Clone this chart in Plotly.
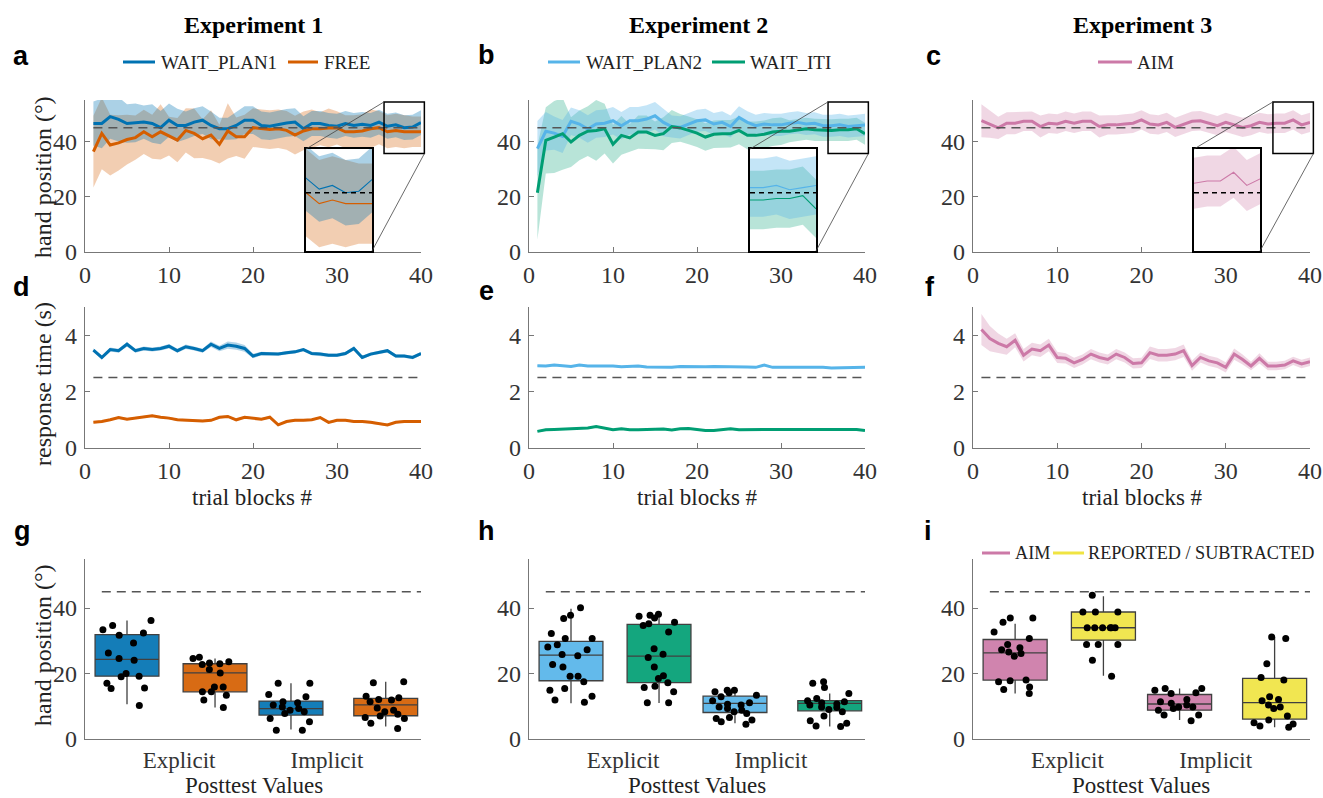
import numpy as np
import plotly.graph_objects as go

# ---------------- data ----------------
TRIALS = list(range(1, 41))

A_WP1_MEAN = [46.5, 46.5, 49.0, 48.0, 46.5, 46.7, 47.0, 46.5, 45.0, 47.7, 45.8, 45.8, 47.0, 47.7, 45.8, 44.6, 44.6, 45.8, 47.7, 47.7,
              45.8, 45.5, 46.2, 46.7, 47.0, 44.6, 46.5, 46.5, 45.8, 45.5, 46.5, 45.8, 46.2, 45.8, 47.0, 45.5, 46.0, 45.0, 45.2, 46.8]
A_WP1_SD = [8, 9, 8, 8, 7, 7, 6, 7, 6, 6, 6, 5, 5, 5, 5, 4, 4, 5, 5, 5,
            5, 5, 5, 5, 5, 4.5, 4.5, 4.5, 4.5, 4.5, 4.5, 4.5, 4.5, 4.5, 4.5, 4.5, 4.5, 4.5, 4.5, 4.5]
A_FREE_MEAN = [36.3, 42.9, 38.7, 39.5, 40.7, 41.4, 43.5, 41.7, 43.5, 41.9, 40.5, 44.0, 42.9, 41.0, 42.3, 39.0, 43.8, 41.7, 41.7, 45.0,
               44.6, 44.3, 44.6, 44.0, 42.3, 43.8, 44.6, 44.6, 44.9, 44.9, 43.5, 43.5, 43.8, 44.6, 45.0, 43.5, 44.0, 43.5, 43.5, 43.5]
A_FREE_SD = [13, 13, 11, 10, 9, 8, 8, 8, 10, 7, 8, 8, 9, 7, 9, 7, 10, 7, 8, 7,
             7, 7, 7, 7, 7, 7, 7, 6, 7, 6, 6, 6, 6, 7, 6, 6, 6, 6, 5.5, 5.5]

B_WP2_MEAN = [37.4, 43.7, 43.0, 41.8, 47.3, 46.3, 44.5, 46.3, 46.6, 47.5, 45.7, 47.5, 47.5, 48.1, 49.3, 46.9, 45.4, 45.1, 46.3, 47.5,
              47.8, 46.3, 46.9, 45.4, 48.7, 46.9, 45.7, 46.3, 46.0, 46.0, 46.6, 46.9, 46.3, 46.6, 45.7, 45.7, 46.0, 45.4, 45.7, 46.0]
B_WP2_SD = [10, 7, 6, 6, 5, 5, 5, 5, 5, 5, 5, 5, 5, 5, 5, 5, 4, 4, 4, 4,
            4, 4, 4, 4, 4, 4, 4, 4, 4, 4, 4, 4, 4, 4, 4, 4, 4, 4, 4, 4]
B_ITI_MEAN = [21.4, 40.4, 41.6, 42.8, 39.8, 42.2, 43.7, 44.0, 44.6, 39.0, 42.2, 41.3, 43.4, 43.4, 42.2, 42.8, 45.4, 44.9, 44.0, 43.0,
              41.6, 42.6, 42.8, 42.8, 44.0, 42.2, 42.2, 42.6, 43.4, 43.7, 43.7, 44.2, 44.6, 44.2, 44.0, 44.0, 44.2, 44.2, 44.6, 42.8]
B_ITI_SD = [17, 12, 13, 13, 9, 9, 9, 11, 9, 7, 7, 5, 6, 6, 5, 6, 6, 5, 5, 5,
            5, 5, 5, 5, 5, 5, 5, 5, 5, 5, 4, 4, 4, 4, 4, 4, 4, 4, 4, 4]

C_AIM_MEAN = [47.5, 46.3, 44.9, 46.6, 46.6, 47.3, 47.3, 45.4, 46.6, 46.3, 47.3, 46.6, 47.3, 47.3, 45.4, 46.0, 46.0, 46.3, 46.6, 47.8,
              46.3, 46.0, 46.9, 45.1, 46.3, 47.3, 47.5, 46.6, 45.7, 46.9, 46.0, 45.1, 45.7, 46.9, 46.3, 46.6, 46.6, 47.8, 46.0, 46.9]
C_AIM_SD = [6, 5, 4, 4, 4, 3.5, 3.5, 4, 3.5, 3.5, 3.5, 3.5, 3.5, 3.5, 4, 3.5, 3.5, 3.5, 3.5, 3.5,
            3.5, 3.5, 3.5, 3.5, 3.5, 3.5, 3.5, 3.5, 3.5, 3.5, 3.5, 3.5, 3.5, 3.5, 3.5, 3.5, 3.5, 3.5, 3.5, 3.5]

D_WP1_RT = [3.47, 3.21, 3.49, 3.45, 3.68, 3.45, 3.53, 3.49, 3.53, 3.61, 3.45, 3.59, 3.53, 3.45, 3.68, 3.53, 3.65, 3.61, 3.53, 3.26,
            3.35, 3.33, 3.33, 3.38, 3.41, 3.49, 3.35, 3.33, 3.29, 3.29, 3.35, 3.53, 3.21, 3.33, 3.38, 3.45, 3.26, 3.26, 3.21, 3.35]
D_WP1_SD = [0.07, 0.07, 0.07, 0.07, 0.08, 0.07, 0.07, 0.07, 0.07, 0.08, 0.07, 0.08, 0.07, 0.07, 0.1, 0.1, 0.13, 0.13, 0.12, 0.08,
            0.06, 0.06, 0.06, 0.06, 0.06, 0.06, 0.06, 0.06, 0.06, 0.06, 0.06, 0.07, 0.06, 0.06, 0.06, 0.06, 0.06, 0.06, 0.06, 0.06]
D_FREE_RT = [0.91, 0.94, 1.00, 1.08, 1.02, 1.06, 1.12, 1.14, 1.09, 1.06, 1.00, 0.98, 0.98, 0.96, 0.98, 1.09, 1.12, 1.00, 1.09, 1.06,
             1.02, 1.09, 0.82, 0.94, 0.98, 0.98, 1.00, 1.08, 0.91, 0.98, 0.98, 0.94, 0.94, 0.91, 0.86, 0.82, 0.91, 0.94, 0.94, 0.94]
D_FREE_SD = [0.04] * 40

E_WP2_RT = [2.92, 2.91, 2.94, 2.91, 2.89, 2.94, 2.91, 2.91, 2.92, 2.91, 2.88, 2.89, 2.91, 2.87, 2.87, 2.87, 2.86, 2.89, 2.88, 2.88,
            2.88, 2.89, 2.89, 2.88, 2.89, 2.87, 2.86, 2.94, 2.86, 2.86, 2.88, 2.87, 2.87, 2.87, 2.86, 2.84, 2.85, 2.85, 2.87, 2.86]
E_WP2_SD = [0.03] * 40
E_ITI_RT = [0.59, 0.65, 0.66, 0.67, 0.68, 0.71, 0.71, 0.76, 0.71, 0.65, 0.68, 0.65, 0.65, 0.65, 0.65, 0.67, 0.64, 0.68, 0.69, 0.65,
            0.62, 0.62, 0.64, 0.68, 0.65, 0.65, 0.66, 0.65, 0.64, 0.64, 0.65, 0.65, 0.65, 0.64, 0.64, 0.64, 0.66, 0.65, 0.66, 0.62]
E_ITI_SD = [0.03] * 40

F_AIM_RT = [4.20, 3.88, 3.71, 3.59, 3.82, 3.29, 3.51, 3.45, 3.65, 3.21, 3.18, 3.02, 3.14, 3.33, 3.21, 3.14, 3.33, 3.21, 3.00, 3.02,
            3.38, 3.29, 3.29, 3.33, 3.45, 2.92, 3.21, 3.09, 3.02, 2.86, 3.33, 3.14, 2.91, 3.18, 2.91, 2.91, 2.94, 3.09, 2.98, 3.06]
F_AIM_SD = [0.55, 0.45, 0.35, 0.28, 0.25, 0.22, 0.22, 0.22, 0.22, 0.2, 0.18, 0.18, 0.18, 0.18, 0.18, 0.18, 0.18, 0.18, 0.18, 0.18,
            0.22, 0.22, 0.22, 0.22, 0.22, 0.18, 0.18, 0.18, 0.18, 0.18, 0.2, 0.18, 0.15, 0.18, 0.15, 0.15, 0.15, 0.15, 0.15, 0.15]

BOX_GROUPS = ["Explicit", "Implicit"]

# panel g: WAIT_PLAN1 / FREE  (explicit, explicit, implicit, implicit)
G_Q1 = [19.2, 14.4, 7.3, 7.1]
G_MED = [24.3, 20.2, 9.3, 10.4]
G_Q3 = [31.9, 23.0, 11.6, 12.4]
G_LO = [10.6, 9.6, 2.9, 3.8]
G_HI = [36.2, 24.6, 17.0, 17.5]
G_PTS = [
    [36.2, 31.7, 32.4, 34.7, 33.4, 29.3, 26.3, 24.6, 24.1, 20.0, 19.2, 19.0, 17.0, 15.6, 15.4, 10.2],
    [23.6, 23.0, 21.2, 22.8, 25.0, 24.6, 23.2, 20.2, 15.9, 15.9, 14.4, 13.4, 14.4, 11.9, 9.6],
    [17.0, 17.0, 12.9, 13.6, 11.4, 11.1, 10.4, 9.8, 9.3, 8.8, 8.3, 7.8, 6.3, 5.3, 2.7, 2.7],
    [17.5, 17.2, 13.1, 12.6, 12.1, 11.9, 11.4, 9.5, 8.8, 8.3, 7.6, 7.0, 6.6, 6.3, 4.8, 3.2],
]
# panel h: WAIT_PLAN2 / WAIT_ITI
H_Q1 = [17.8, 17.2, 8.1, 8.6]
H_MED = [25.6, 25.3, 10.9, 10.9]
H_Q3 = [29.8, 35.0, 13.1, 11.7]
H_LO = [10.9, 11.0, 4.8, 3.8]
H_HI = [39.8, 38.0, 14.9, 13.9]
H_PTS = [
    [40.1, 37.8, 36.8, 32.2, 30.7, 30.7, 28.8, 28.1, 27.3, 25.8, 25.4, 22.8, 22.0, 19.2, 19.2, 17.5, 15.4, 14.9, 13.1, 11.9, 11.2],
    [38.1, 37.8, 37.5, 37.0, 35.7, 35.2, 34.7, 32.7, 27.6, 25.9, 24.9, 22.0, 19.3, 18.5, 17.2, 16.1, 15.7, 14.4, 11.1, 11.1],
    [14.9, 14.9, 14.4, 14.1, 13.4, 12.9, 11.7, 11.1, 10.6, 10.4, 9.8, 9.3, 8.8, 8.3, 7.8, 6.6, 6.3, 5.8, 5.3, 4.5],
    [17.5, 17.0, 15.7, 13.9, 12.4, 11.7, 11.4, 11.1, 10.7, 10.4, 9.8, 9.6, 9.0, 8.3, 7.0, 5.6, 4.8, 4.0, 3.8],
]
# panel i: AIM / REPORTED-SUBTRACTED
I_Q1 = [18.0, 30.2, 8.8, 6.1]
I_MED = [26.3, 34.0, 10.7, 11.1]
I_Q3 = [30.4, 38.8, 13.6, 18.5]
I_LO = [13.9, 19.3, 5.8, 3.6]
I_HI = [35.2, 43.6, 15.4, 31.2]
I_PTS = [
    [37.0, 37.0, 35.7, 32.7, 30.7, 28.9, 27.9, 27.3, 26.6, 26.1, 25.3, 18.0, 17.8, 17.5, 15.9, 15.1, 13.9],
    [43.9, 38.8, 38.8, 38.8, 34.0, 34.0, 34.0, 34.0, 34.0, 34.0, 28.9, 28.9, 28.9, 24.1, 19.2],
    [15.4, 15.4, 14.9, 14.1, 13.9, 12.1, 11.4, 10.9, 10.4, 9.8, 9.8, 9.3, 8.8, 7.3, 7.3, 5.6],
    [31.2, 30.7, 23.0, 18.8, 18.0, 12.9, 12.1, 11.7, 10.4, 9.8, 9.3, 7.0, 5.8, 5.0, 4.6, 4.0, 3.6],
]
I_LEGEND_NAMES = ["AIM", "REPORTED / SUBTRACTED"]

TARGET_ANGLE = 45
RT_LIMIT = 2.5

# ---------------- style / layout constants ----------------
BLUE, ORANGE = "#0072B2", "#D55E00"
LBLUE, GREEN = "#56B4E9", "#009E73"
PINK, YELLOW = "#CC79A7", "#F0E442"
SERIF = "Liberation Serif"
SANS = "Liberation Sans"
FS = 24
W, H = 1323, 798
COLS = [(85, 421), (529, 865), (973, 1310)]
ROWS = [(100, 252), (307, 448), (559, 739)]
INSET_DX = (221, 287)
INSET_Y = (149, 251)
INSET_XR = [35, 40]
INSET_YR = [37, 51]
ZOOM_RECT = (35.6, 40.4, 35.6, 54.3)
BOX_POS = [0.125, 0.387, 0.613, 0.895]
BOX_TICKS = [0.28, 0.72]
BOX_W = 0.19
DASH = "9px,6px"
# legend item placement (line start, line end, text start) in px; legend row y in px
LEG_ITEMS = [
    [(123, 155, 159), (288, 318, 322)],
    [(548, 580, 584), (712, 745, 748)],
    [(1098, 1132, 1135)],
    [(982, 1010, 1013), (1053, 1084, 1086)],
]
LEG_Y = [62, 62, 62, 553]
LEG_FS = [19, 19, 19, 18.2]


def px2x(p):
    return p / W


def py2y(p):
    return 1 - p / H


def rgba(hexc, a):
    h = hexc.lstrip("#")
    return "rgba(%d,%d,%d,%.3f)" % (int(h[0:2], 16), int(h[2:4], 16), int(h[4:6], 16), a)


def refs(n):
    return ("x" if n == 1 else f"x{n}"), ("y" if n == 1 else f"y{n}")


def axkeys(n):
    return ("xaxis" if n == 1 else f"xaxis{n}"), ("yaxis" if n == 1 else f"yaxis{n}")


def base_axis():
    return dict(showline=True, linecolor="#777", linewidth=1.3, ticks="inside", ticklen=5, tickwidth=1,
                tickcolor="#777", tickfont=dict(family=SERIF, size=FS, color="#333"),
                showgrid=False, zeroline=False)


fig = go.Figure()
layout = {}
shapes = []
annotations = []

# main axes
for r in range(3):
    for c in range(3):
        n = r * 3 + c + 1
        xk, yk = axkeys(n)
        xr, yr = refs(n)
        xa = base_axis()
        ya = base_axis()
        xa.update(domain=[px2x(COLS[c][0]), px2x(COLS[c][1])], anchor=yr)
        ya.update(domain=[py2y(ROWS[r][1]), py2y(ROWS[r][0])], anchor=xr)
        if r == 0:
            xa.update(range=[0, 40], tickvals=[0, 10, 20, 30, 40], ticklabelstandoff=1)
        elif r == 1:
            xa.update(range=[0, 40], tickvals=[0, 10, 20, 30, 40], ticklabelstandoff=1)
        else:
            xa.update(range=[0, 1], tickvals=BOX_TICKS, ticktext=BOX_GROUPS, ticks="", ticklabelstandoff=0,
                      tickfont=dict(family=SERIF, size=23, color="#333"))
        if r == 1:
            ya.update(range=[0, 5], tickvals=[0, 2, 4])
        else:
            ya.update(range=[0, 55], tickvals=[0, 20, 40])
        ya.update(ticklabelstandoff=2)
        layout[xk] = xa
        layout[yk] = ya

# inset axes
for c in range(3):
    n = 10 + c
    xk, yk = axkeys(n)
    xr, yr = refs(n)
    x0 = COLS[c][0] + INSET_DX[0]
    x1 = COLS[c][0] + INSET_DX[1]
    layout[xk] = dict(domain=[px2x(x0), px2x(x1)], anchor=yr, range=INSET_XR, showline=True, mirror=True,
                      linecolor="black", linewidth=1.5, ticks="", showticklabels=False, showgrid=False, zeroline=False)
    layout[yk] = dict(domain=[py2y(INSET_Y[1]), py2y(INSET_Y[0])], anchor=xr, range=INSET_YR, showline=True,
                      mirror=True, linecolor="black", linewidth=1.5, ticks="", showticklabels=False,
                      showgrid=False, zeroline=False)


def band(x, mean, sd, color, alpha, n):
    xr, yr = refs(n)
    m = np.array(mean, dtype=float)
    s = np.array(sd, dtype=float)
    up = m + s
    lo = m - s
    fig.add_trace(go.Scatter(x=list(x) + list(x)[::-1], y=list(up) + list(lo[::-1]), fill="toself",
                             fillcolor=rgba(color, alpha), line=dict(width=0), mode="lines",
                             hoverinfo="skip", showlegend=False, xaxis=xr, yaxis=yr))


def line(x, y, color, width, n, name=None):
    xr, yr = refs(n)
    fig.add_trace(go.Scatter(x=x, y=y, mode="lines", line=dict(color=color, width=width), name=name,
                             showlegend=False, xaxis=xr, yaxis=yr))


TOP = [
    [("WAIT_PLAN1", A_WP1_MEAN, A_WP1_SD, BLUE), ("FREE", A_FREE_MEAN, A_FREE_SD, ORANGE)],
    [("WAIT_PLAN2", B_WP2_MEAN, B_WP2_SD, LBLUE), ("WAIT_ITI", B_ITI_MEAN, B_ITI_SD, GREEN)],
    [("AIM", C_AIM_MEAN, C_AIM_SD, PINK)],
]
MID = [
    [(D_WP1_RT, D_WP1_SD, BLUE), (D_FREE_RT, D_FREE_SD, ORANGE)],
    [(E_WP2_RT, E_WP2_SD, LBLUE), (E_ITI_RT, E_ITI_SD, GREEN)],
    [(F_AIM_RT, F_AIM_SD, PINK)],
]
BAND_ALPHA = {BLUE: 0.33, ORANGE: 0.3, LBLUE: 0.35, GREEN: 0.28, PINK: 0.3}

for c in range(3):
    series = TOP[c]
    for name, m, s, col in reversed(series):
        band(TRIALS, m, s, col, BAND_ALPHA[col], c + 1)
    for name, m, s, col in series:
        line(TRIALS, m, col, 3, c + 1, name=name)
    for name, m, s, col in reversed(series):
        band(TRIALS, m, s, col, BAND_ALPHA[col], 10 + c)
    for name, m, s, col in series:
        line(TRIALS, m, col, 1.1, 10 + c, name=name)
    for m, s, col in reversed(MID[c]):
        band(TRIALS, m, s, col, 0.3, 4 + c)
    for m, s, col in MID[c]:
        line(TRIALS, m, col, 3, 4 + c)

# box panels
BOXES = [
    (G_Q1, G_MED, G_Q3, G_LO, G_HI, G_PTS, [BLUE, ORANGE]),
    (H_Q1, H_MED, H_Q3, H_LO, H_HI, H_PTS, [LBLUE, GREEN]),
    (I_Q1, I_MED, I_Q3, I_LO, I_HI, I_PTS, [PINK, YELLOW]),
]
for c, (q1, med, q3, lo, hi, pts, cols) in enumerate(BOXES):
    n = 7 + c
    xr, yr = refs(n)
    for k in range(4):
        col = cols[k % 2]
        fig.add_trace(go.Box(x=[BOX_POS[k]], q1=[q1[k]], median=[med[k]], q3=[q3[k]], lowerfence=[lo[k]],
                             upperfence=[hi[k]], width=BOX_W, whiskerwidth=0, fillcolor=rgba(col, 0.92),
                             line=dict(color="#404040", width=1.3), boxpoints=False, showlegend=False,
                             xaxis=xr, yaxis=yr))
    for k in range(4):
        fig.add_trace(go.Box(x=[BOX_POS[k]] * len(pts[k]), y=pts[k], width=BOX_W, boxpoints="all", jitter=0.85,
                             pointpos=0, fillcolor="rgba(0,0,0,0)", line=dict(width=0), whiskerwidth=0,
                             marker=dict(color="black", size=7), showlegend=False, hoveron="points",
                             xaxis=xr, yaxis=yr))

# reference (dashed) lines, zoom rectangles, connectors
for c in range(3):
    xr, yr = refs(c + 1)
    shapes.append(dict(type="line", xref=xr, yref=yr, x0=1, x1=40, y0=TARGET_ANGLE, y1=TARGET_ANGLE,
                       line=dict(color="#555", width=1.5, dash=DASH)))
    xr, yr = refs(4 + c)
    shapes.append(dict(type="line", xref=xr, yref=yr, x0=1, x1=40, y0=RT_LIMIT, y1=RT_LIMIT,
                       line=dict(color="#555", width=1.5, dash=DASH)))
    xr, yr = refs(7 + c)
    shapes.append(dict(type="line", xref=xr + " domain", yref=yr, x0=0.05, x1=1, y0=TARGET_ANGLE, y1=TARGET_ANGLE,
                       line=dict(color="#555", width=1.5, dash=DASH)))
    xr, yr = refs(10 + c)
    shapes.append(dict(type="line", xref=xr, yref=yr, x0=INSET_XR[0], x1=INSET_XR[1], y0=TARGET_ANGLE,
                       y1=TARGET_ANGLE, line=dict(color="black", width=1.4, dash="5px,4px")))

    cx0, cx1 = COLS[c]
    ry0, ry1 = ROWS[0]

    def dpx(xv, yv):
        return cx0 + xv / 40 * (cx1 - cx0), ry1 - yv / 55 * (ry1 - ry0)

    rx0, rx1, rya, ryb = ZOOM_RECT
    p_tl = dpx(rx0, ryb)
    p_br = dpx(rx1, rya)
    shapes.append(dict(type="rect", xref="paper", yref="paper", x0=px2x(p_tl[0]), x1=px2x(p_br[0]),
                       y0=py2y(p_br[1]), y1=py2y(p_tl[1]), line=dict(color="black", width=1.5)))
    ix0 = cx0 + INSET_DX[0]
    ix1 = cx0 + INSET_DX[1]
    shapes.append(dict(type="line", xref="paper", yref="paper", x0=px2x(p_tl[0]), y0=py2y(p_tl[1]),
                       x1=px2x(ix0), y1=py2y(INSET_Y[0]), line=dict(color="#444", width=0.8)))
    shapes.append(dict(type="line", xref="paper", yref="paper", x0=px2x(p_br[0]), y0=py2y(p_br[1]),
                       x1=px2x(ix1), y1=py2y(INSET_Y[1]), line=dict(color="#444", width=0.8)))


def ann(text, x, y, size, family=SERIF, angle=0, color="#222", xanchor="center"):
    annotations.append(dict(text=text, x=px2x(x), y=py2y(y), xref="paper", yref="paper", showarrow=False,
                            xanchor=xanchor, yanchor="middle", textangle=angle,
                            font=dict(family=family, size=size, color=color)))


# legends (line key + label), built from the series names / colours
LEG_SERIES = [[(s[0], s[3]) for s in TOP[0]], [(s[0], s[3]) for s in TOP[1]], [(s[0], s[3]) for s in TOP[2]],
              list(zip(I_LEGEND_NAMES, [PINK, YELLOW]))]
for items, pos, ly, lfs in zip(LEG_SERIES, LEG_ITEMS, LEG_Y, LEG_FS):
    for (name, col), (l0, l1, tx) in zip(items, pos):
        shapes.append(dict(type="line", xref="paper", yref="paper", x0=px2x(l0), x1=px2x(l1), y0=py2y(ly),
                           y1=py2y(ly), line=dict(color=col, width=3)))
        ann(name, tx, ly, lfs, xanchor="left")

for t, x in [("Experiment 1", 253), ("Experiment 2", 698), ("Experiment 3", 1142)]:
    ann("<b>" + t + "</b>", x, 25, 24, color="black")

for t, x, y in [("a", 21, 56), ("b", 486, 55), ("c", 933, 56), ("d", 21, 287), ("e", 486, 291), ("f", 930, 287),
                ("g", 22, 531), ("h", 486, 531), ("i", 928, 531)]:
    ann("<b>" + t + "</b>", x, y, 27, family=SANS, color="black")

ann("hand position (°)", 43, 177, FS, angle=-90)
ann("response time (s)", 43, 384, FS, angle=-90)
ann("hand position (°)", 43, 645, FS, angle=-90)
for x in [252, 697, 1142]:
    ann("trial blocks #", x, 497, 23)
for x in [254, 697, 1141]:
    ann("Posttest Values", x, 785.5, 23)

fig.update_layout(autosize=True, margin=dict(l=0, r=0, t=0, b=0, autoexpand=False), paper_bgcolor="white",
                  plot_bgcolor="white", shapes=shapes, annotations=annotations, showlegend=False, **layout)

fig.write_html("out.html", config={"displayModeBar": False, "responsive": True},
               default_width="100vw", default_height="100vh",
               post_script="document.body.style.margin='0px';document.body.style.padding='0px';"
                           "document.documentElement.style.overflow='hidden';")
